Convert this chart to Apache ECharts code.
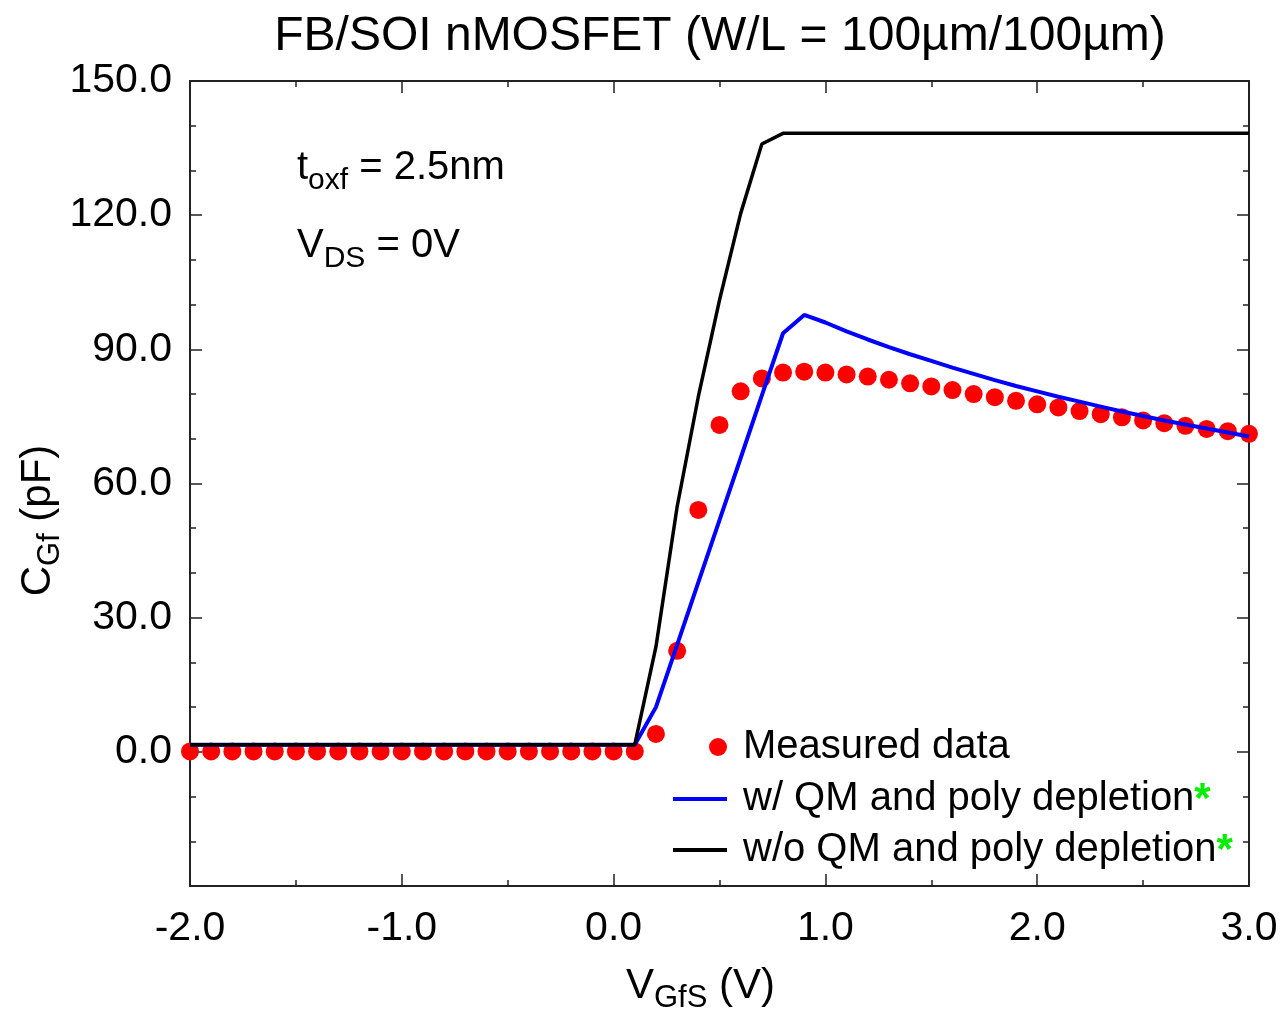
<!DOCTYPE html>
<html>
<head>
<meta charset="utf-8">
<script src="https://cdn.jsdelivr.net/npm/echarts@6/dist/echarts.min.js"></script>
<style>
html,body{margin:0;padding:0;background:#fff;}
#c{width:1283px;height:1015px;}
</style>
</head>
<body>
<div id="c"></div>
<script>
// ---- data ----
var measuredX = [-2.0,-1.9,-1.8,-1.7,-1.6,-1.5,-1.4,-1.3,-1.2,-1.1,-1.0,-0.9,-0.8,-0.7,-0.6,-0.5,-0.4,-0.3,-0.2,-0.1,0.0,0.1,
  0.2,0.3,0.4,0.5,0.6,0.7,0.8,0.9,1.0,1.1,1.2,1.3,1.4,1.5,1.6,1.7,1.8,1.9,2.0,2.1,2.2,2.3,2.4,2.5,2.6,2.7,2.8,2.9,3.0];
var measuredY = [0.1,0.1,0.1,0.1,0.1,0.1,0.1,0.1,0.1,0.1,0.1,0.1,0.1,0.1,0.1,0.1,0.1,0.1,0.1,0.1,0.1,0.1,
  4.0,22.6,54.1,73.1,80.6,83.5,84.8,85.0,84.8,84.4,83.9,83.2,82.4,81.7,80.9,80.0,79.3,78.5,77.7,77.0,76.2,75.5,74.8,74.1,73.5,72.9,72.2,71.7,71.1];

var qmX = [-2.0,0.1,0.2,0.3,0.4,0.5,0.6,0.7,0.8,0.9,1.0,1.1,1.2,1.3,1.4,1.5,1.6,1.7,1.8,1.9,2.0,2.1,2.2,2.3,2.4,2.5,2.6,2.7,2.8,2.9,3.0];
var qmY = [1.6,1.6,10.0,23.9,37.9,51.8,65.7,79.7,93.6,97.7,96.0,94.0,92.2,90.5,88.9,87.4,85.9,84.5,83.1,81.8,80.6,79.4,78.3,77.2,76.1,75.1,74.1,73.2,72.3,71.4,70.5];

var noQmX = [-2.0,0.1,0.2,0.3,0.4,0.5,0.6,0.7,0.8,3.0];
var noQmY = [1.6,1.6,23.5,54.8,79.4,101.0,120.4,135.9,138.3,138.3];

var seriesNames = ['Measured data','w/ QM and poly depletion','w/o QM and poly depletion'];
var titleText = 'FB/SOI nMOSFET (W/L = 100\u00b5m/100\u00b5m)';

function pairs(xs, ys){ var out=[]; for(var i=0;i<xs.length;i++) out.push([xs[i], ys[i]]); return out; }

var FONT = "'Liberation Sans', Arial, Helvetica, sans-serif";
var AX = '#222';

var chart = echarts.init(document.getElementById('c'), null, {renderer:'canvas'});

function baseAxis(extra){
  var o = {
    axisLine:{show:true, onZero:false, lineStyle:{color:AX, width:2}},
    axisTick:{show:true, inside:true, length:12, lineStyle:{color:AX, width:1.5}},
    splitLine:{show:false},
    minorSplitLine:{show:false}
  };
  for (var k in extra) o[k]=extra[k];
  return o;
}

var subRich = {
  n:{fontSize:40, fontFamily:FONT, color:'#000', lineHeight:56},
  s:{fontSize:30, fontFamily:FONT, color:'#000', lineHeight:30, verticalAlign:'bottom'}
};
var nameRich = {
  n:{fontSize:42, fontFamily:FONT, color:'#000', lineHeight:56},
  s:{fontSize:31, fontFamily:FONT, color:'#000', lineHeight:30, verticalAlign:'bottom'}
};

var option = {
  animation:false,
  backgroundColor:'#fff',
  title:{
    text:titleText, left:715, top:8, textAlign:'center',
    textStyle:{fontSize:48, fontWeight:'normal', color:'#000', fontFamily:FONT}
  },
  grid:{left:190, right:34, top:81, bottom:129, containLabel:false, outerBoundsMode:'none'},
  xAxis:[
    baseAxis({type:'value', position:'bottom', min:-2, max:3, interval:1,
      minorTick:{show:true, splitNumber:2, length:6, lineStyle:{color:AX, width:1.5}},
      axisLabel:{show:true, margin:22, fontSize:41, color:'#000', fontFamily:FONT,
        formatter:function(v){ return v.toFixed(1); }},
      name:'{n|V}{s|GfS}{n| (V)}', nameLocation:'middle', nameGap:72, nameMoveOverlap:false,
      nameTextStyle:{rich:nameRich, padding:[0,38,0,0]}
    }),
    baseAxis({type:'value', position:'top', min:-2, max:3, interval:1,
      minorTick:{show:true, splitNumber:2, length:6, lineStyle:{color:AX, width:1.5}},
      axisLabel:{show:false}})
  ],
  yAxis:[
    baseAxis({type:'value', position:'left', min:-30, max:150, interval:30,
      minorTick:{show:true, splitNumber:3, length:6, lineStyle:{color:AX, width:1.5}},
      axisLabel:{show:true, margin:18, fontSize:41, color:'#000', fontFamily:FONT,
        formatter:function(v){ return v < 0 ? '' : v.toFixed(1); }},
      name:'{n|C}{s|Gf}{n| (pF)}', nameLocation:'middle', nameGap:124, nameRotate:90, nameMoveOverlap:false,
      nameTextStyle:{rich:nameRich, padding:[0,74,0,0]}
    }),
    baseAxis({type:'value', position:'right', min:-30, max:150, interval:30,
      minorTick:{show:true, splitNumber:3, length:6, lineStyle:{color:AX, width:1.5}},
      axisLabel:{show:false}})
  ],
  legend:[
    {
      data:[seriesNames[0]], left:704, top:722, orient:'vertical',
      icon:'circle', itemWidth:18, itemHeight:18, selectedMode:false,
      formatter:function(n){ return '{a|'+n+'}'; },
      textStyle:{rich:{a:{fontSize:40, fontFamily:FONT, color:'#000', lineHeight:40, padding:[0,0,0,11]}}}
    },
    {
      data:[seriesNames[1], seriesNames[2]], left:668, top:774, orient:'vertical',
      icon:'rect', itemWidth:54, itemHeight:4, itemGap:9, selectedMode:false,
      formatter:function(n){ return '{a|'+n+'}{s|*}'; },
      textStyle:{rich:{
        a:{fontSize:40, fontFamily:FONT, color:'#000', lineHeight:40, padding:[0,0,0,11]},
        s:{fontSize:42, fontFamily:FONT, color:'#00ee00', fontWeight:'bold', lineHeight:32, verticalAlign:'top'}
      }}
    }
  ],
  graphic:[
    {type:'text', left:297, top:148, style:{
      text:'{n|t}{s|oxf}{n| = 2.5nm}', rich:subRich, fill:'#000'}},
    {type:'text', left:297, top:226, style:{
      text:'{n|V}{s|DS}{n| = 0V}', rich:subRich, fill:'#000'}}
  ],
  series:[
    {name:seriesNames[0], type:'scatter', data:pairs(measuredX, measuredY),
      symbol:'circle', symbolSize:18, itemStyle:{color:'#ff0000', opacity:1}, z:2},
    {name:seriesNames[1], type:'line', data:pairs(qmX, qmY), showSymbol:false, symbol:'none',
      lineStyle:{color:'#0000ff', width:4}, itemStyle:{color:'#0000ff'}, z:3},
    {name:seriesNames[2], type:'line', data:pairs(noQmX, noQmY), showSymbol:false, symbol:'none',
      lineStyle:{color:'#000000', width:3.5}, itemStyle:{color:'#000000'}, z:3}
  ]
};
chart.setOption(option);
</script>
</body>
</html>
